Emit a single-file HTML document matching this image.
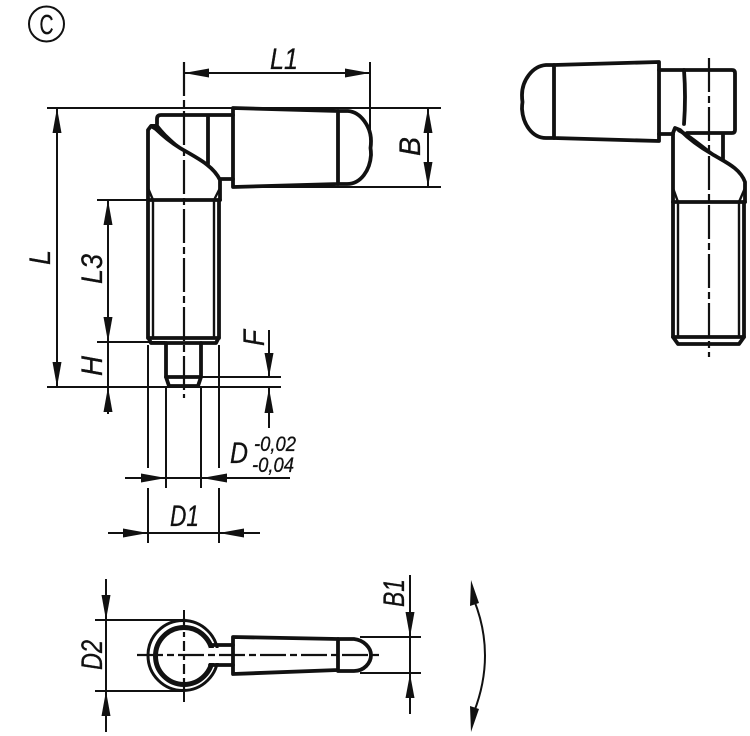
<!DOCTYPE html>
<html>
<head>
<meta charset="utf-8">
<style>
html,body{margin:0;padding:0;background:#fff;}
svg{display:block;}
text{font-family:"Liberation Sans",sans-serif;font-style:italic;fill:#111;stroke:#111;stroke-width:.3;}
.k{fill:none;stroke:#111;stroke-width:3.8;stroke-linejoin:round;stroke-linecap:round;}
.m{fill:none;stroke:#111;stroke-width:2.4;}
.t{fill:none;stroke:#111;stroke-width:2;}
.c{fill:none;stroke:#111;stroke-width:2.2;stroke-dasharray:34 4 7 4;}
.a{fill:#111;stroke:none;}
</style>
</head>
<body>
<svg width="750" height="736" viewBox="0 0 750 736" xmlns="http://www.w3.org/2000/svg">
<circle cx="46.5" cy="24" r="17.500" fill="none" stroke="#111" stroke-width="2"/>
<text x="39.500" y="34" font-size="28" textLength="14" lengthAdjust="spacingAndGlyphs" style="font-style:normal">C</text>

<!-- main view: dimension lines -->
<g class="t">
<path d="M370 62V140"/>
<path d="M184 73H370"/>
<path d="M47 108H441"/>
<path d="M233 187H441"/>
<path d="M57 108V387"/>
<path d="M428 108V187"/>
<path d="M97 200H148"/>
<path d="M97 342H165"/>
<path d="M47 387H281"/>
<path d="M201 377H281"/>
<path d="M108 200V414"/>
<path d="M269 330V377"/>
<path d="M269 387V428"/>
<path d="M125 478H290"/>
<path d="M148 345V468M148 488V543"/>
<path d="M219 345V468M219 488V543"/>
<path d="M166 387V488"/>
<path d="M201 387V488"/>
<path d="M108 533H260"/>
</g>
<path class="c" d="M184 62V398"/>
<g class="a">
<polygon points="184,73 209,68.500 209,77.500"/>
<polygon points="370,73 345,68.500 345,77.500"/>
<polygon points="57,108 52.500,133 61.500,133"/>
<polygon points="57,387 52.500,362 61.500,362"/>
<polygon points="428,108 423.500,133 432.500,133"/>
<polygon points="428,187 423.500,162 432.500,162"/>
<polygon points="108,200 103.500,225 112.500,225"/>
<polygon points="108,342 103.500,317 112.500,317"/>
<polygon points="108,387 103.500,412 112.500,412"/>
<polygon points="269,377 264.500,353 273.500,353"/>
<polygon points="269,388 264.500,413 273.500,413"/>
<polygon points="166,478 141,473.500 141,482.500"/>
<polygon points="202,478 227,473.500 227,482.500"/>
<polygon points="148,533 123,528.500 123,537.500"/>
<polygon points="219,533 244,528.500 244,537.500"/>
</g>

<!-- main view: part -->
<g class="k">
<path d="M233 108L338 111V184L233 187Z"/>
<path d="M338 111H348C361 112 371 127 371 141Q371 145 370.500 148Q371 151 371 155C370 170 361 184 347 184H338"/>
<path d="M233 115H161Q157 115 157 119V124"/>
<path d="M233 179H220"/>
<path d="M208 116V164"/>
<path d="M148 200V130L151 126L156 129C165 138 172 143 180 148C195 157 213 165 220 180V200"/>
<path d="M148 200H220"/>
<path d="M148 200V337L151 343H216L219 337V200"/>
<path d="M148 338H219"/>
<path d="M166 343V377L169 386H198L201 377V343"/>
<path d="M166 377H201"/>
</g>
<path d="M151 124L158 124C163 131 170 138 180 146L178 148C168 141 158 134 151 127Z" fill="#111"/>
<g class="m">
<path d="M153 200V338"/>
<path d="M214 200V338"/>
<path d="M148 188L153 200"/>
<path d="M220 188L214 200"/>
</g>

<!-- right view -->
<path class="c" d="M709 58V357"/>
<g class="k">
<path d="M659 62V141L554 138V65Z"/>
<path d="M554 65H546C532 66 522 81 522 95Q522 99 522.500 102Q522 105 522 109C523 124 532 138 546 138H554"/>
<path d="M659 70H732Q735 70 735 73V130Q735 133 732 133H687"/>
<path d="M659 134H673"/>
<path d="M684 70Q686 97 684 124"/>
<path d="M723 135V160"/>
<path d="M673 202V133L675 128L680 130C690 140 700 147 712 154C725 162 740 168 745 182V202"/>
<path d="M673 202H745"/>
<path d="M673 202V337L678 344H739L744 337V202"/>
<path d="M673 337H744"/>
</g>
<g class="m">
<path d="M678 202V338"/>
<path d="M739 202V338"/>
<path d="M673 188L678 202"/>
<path d="M745 188L739 202"/>
<path d="M678 130C688 135 695 141 712 154" stroke-width="3.500"/>
</g>

<!-- bottom view -->
<g class="t">
<path d="M184 610V630"/>
<path d="M184 682V702"/>
<path d="M95 620H184"/>
<path d="M95 691H184"/>
<path d="M106 579V732"/>
<path d="M360 637H421"/>
<path d="M360 673H421"/>
<path d="M410 575V714"/>
</g>
<g class="a">
<polygon points="106,620 101.500,595 110.500,595"/>
<polygon points="106,691 101.500,716 110.500,716"/>
<polygon points="410,637 405.500,612 414.500,612"/>
<polygon points="410,674 405.500,698 414.500,698"/>
<polygon points="471,580 470,606 479,603"/>
<polygon points="471,732 470,706 479,709"/>
</g>
<path class="t" d="M474 600Q496 655 474 712"/>
<circle cx="183" cy="655.500" r="35" fill="none" stroke="#111" stroke-width="3"/>
<circle cx="184" cy="656" r="28.500" fill="none" stroke="#111" stroke-width="5"/>
<rect x="209" y="648" width="24" height="15" fill="#fff"/>
<g class="k">
<path d="M233 637L338 639V670L233 674Z"/>
<path d="M338 639H354C364 640 371 648 371 655C371 663 364 671 354 671H338"/>
<path d="M210 645H233M210 665H233"/>
</g>
<path class="c" d="M137 655H380" style="stroke-dasharray:26 4 7 4"/>
<path class="c" d="M184 618V692" style="stroke-dasharray:10 4 5 4"/>

<!-- labels -->
<text x="270" y="69" font-size="30" textLength="28" lengthAdjust="spacingAndGlyphs">L1</text>
<text transform="translate(420,156) rotate(-90)" font-size="30" textLength="19" lengthAdjust="spacingAndGlyphs">B</text>
<text transform="translate(50,265) rotate(-90)" font-size="30" textLength="15" lengthAdjust="spacingAndGlyphs">L</text>
<text transform="translate(102,284) rotate(-90)" font-size="30" textLength="30" lengthAdjust="spacingAndGlyphs">L3</text>
<text transform="translate(102,376) rotate(-90)" font-size="30" textLength="20" lengthAdjust="spacingAndGlyphs">H</text>
<text transform="translate(264,346) rotate(-90)" font-size="30" textLength="16" lengthAdjust="spacingAndGlyphs">F</text>
<text x="230" y="463" font-size="30" textLength="18" lengthAdjust="spacingAndGlyphs">D</text>
<text x="254" y="451" font-size="21" textLength="42" lengthAdjust="spacingAndGlyphs">-0,02</text>
<text x="252" y="472" font-size="21" textLength="42" lengthAdjust="spacingAndGlyphs">-0,04</text>
<text x="170" y="526" font-size="30" textLength="29" lengthAdjust="spacingAndGlyphs">D1</text>
<text transform="translate(102,670) rotate(-90)" font-size="30" textLength="30" lengthAdjust="spacingAndGlyphs">D2</text>
<text transform="translate(404,607) rotate(-90)" font-size="30" textLength="28" lengthAdjust="spacingAndGlyphs">B1</text>
</svg>
</body>
</html>
